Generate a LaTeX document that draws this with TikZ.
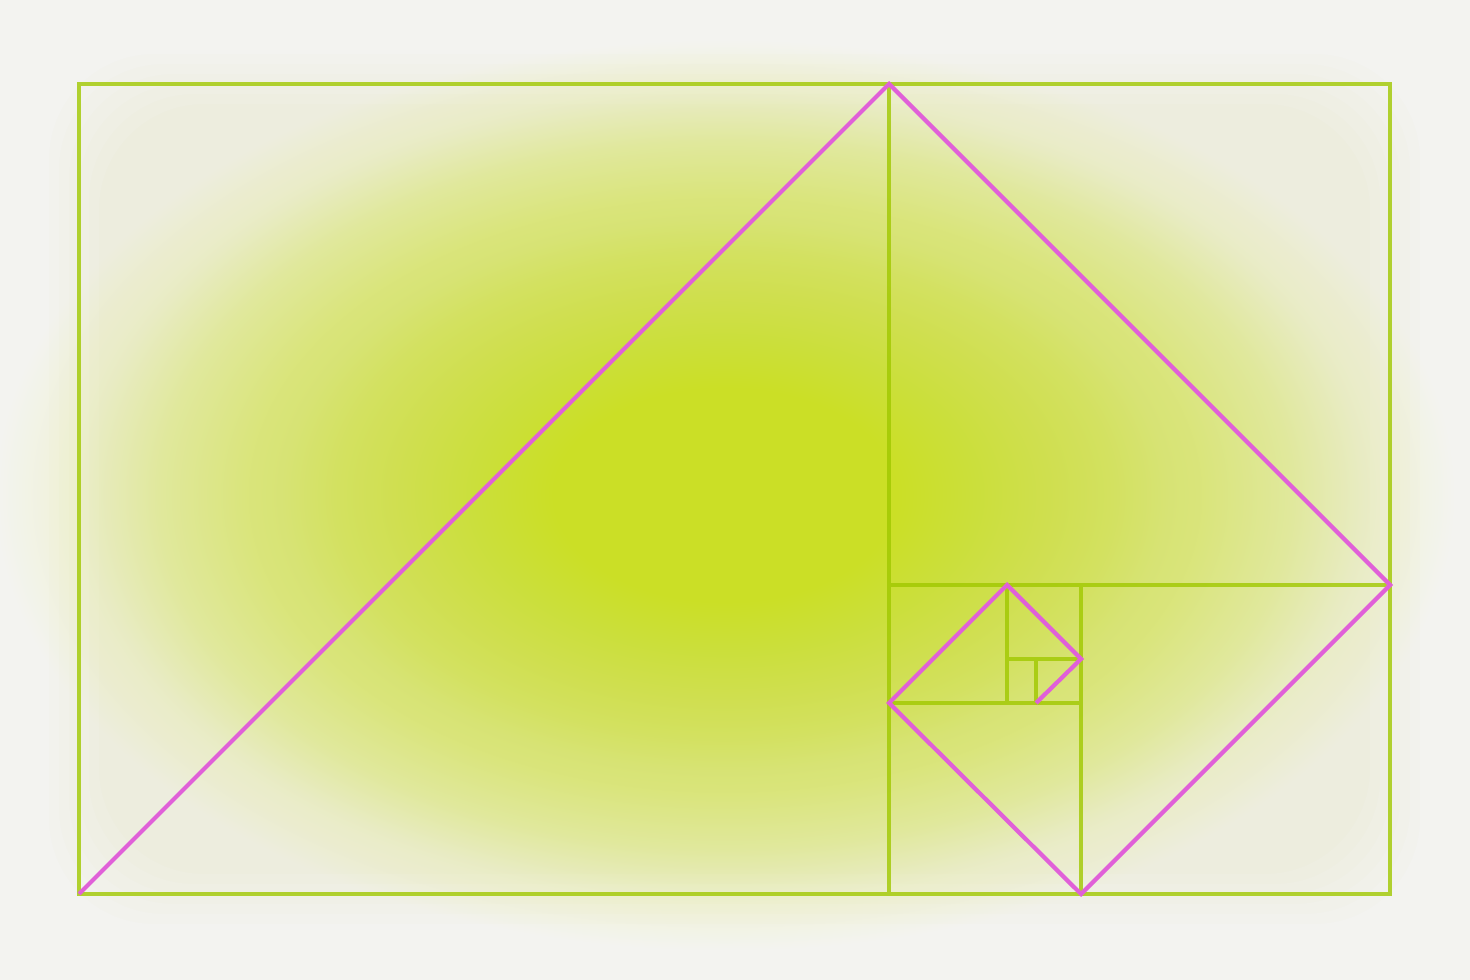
\documentclass[tikz,border=0pt]{standalone}
\usepackage{xcolor}
\usepackage{tikz}

\definecolor{glowcenter}{HTML}{CBDF26}
\definecolor{glowmid}{HTML}{D9E766}
\definecolor{glowpale}{HTML}{E6EEA8}
\definecolor{glowfaint}{HTML}{F0F2D8}
\definecolor{glowedge}{HTML}{F3F3F0}
\definecolor{framegreen}{HTML}{A0C800}
\definecolor{spiralpink}{HTML}{E060D8}

\pgfdeclareradialshading{glow}{\pgfpoint{0bp}{0bp}}{color(0bp)=(glowcenter); color(5bp)=(glowcenter); color(13bp)=(glowmid); color(19bp)=(glowpale); color(22bp)=(glowfaint); color(24.5bp)=(glowedge); color(50bp)=(glowedge)}

\begin{document}
\begin{tikzpicture}[x=0.01cm, y=-0.01cm]
        % Define styles
        \tikzstyle{frameline} = [draw=framegreen, draw opacity=0.8, line width=1.15pt]
        \tikzstyle{spiralline} = [draw=spiralpink, line width=1.2pt, line join=miter]
        \tikzstyle{tint} = [fill=glowcenter, fill opacity=0.012]

        % Background
        \useasboundingbox (0,0) rectangle (1470,980);
        \fill [glowedge] (0,0) rectangle (1470,980);
        \begin{scope}
            \clip (0,0) rectangle (1470,980);
            \shade [shading=glow] (725,495) ellipse (745 and 465);
            \foreach \d in {-30,-20,...,20}
                \fill [tint, rounded corners=30] (79+\d,84+\d) rectangle (1390-\d,894-\d);
        \end{scope}

        % Corners of the squares
        \coordinate (a) at (79,894);
        \coordinate (b) at (889,84);
        \coordinate (c) at (1390,585);
        \coordinate (d) at (1081,894);
        \coordinate (e) at (889,703);
        \coordinate (f) at (1007,585);
        \coordinate (g) at (1081,659);
        \coordinate (h) at (1036,703);

        % Squares
        \draw [frameline] (79,84) rectangle (1390,894)
            (b) -- (889,894)
            (889,585) -- (c)
            (1081,585) -- (d)
            (e) -- (1081,703)
            (f) -- (1007,703)
            (1007,659) -- (g)
            (1036,659) -- (h);

        % Diagonals
        \draw [spiralline] (a) -- (b) -- (c) -- (d) -- (e) -- (f) -- (g) -- (h);
    \end{tikzpicture}
\end{document}
